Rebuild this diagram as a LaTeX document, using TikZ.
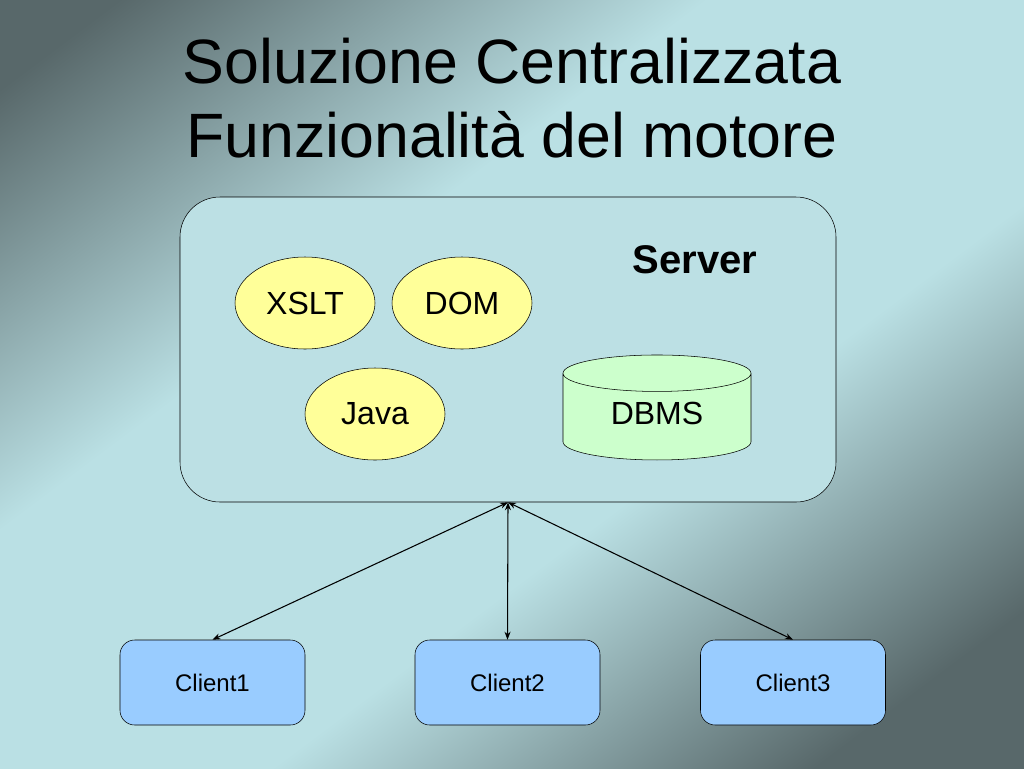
\documentclass[tikz,border=0pt]{standalone}
\usepackage{fontspec}
\setmainfont{Liberation Sans}
\usetikzlibrary{positioning,shapes.geometric,arrows.meta}
\definecolor{bgdark}{RGB}{88,104,106}
\definecolor{bglight}{RGB}{186,224,228}
\definecolor{srvfill}{RGB}{188,224,228}
\definecolor{appfill}{RGB}{255,255,153}
\definecolor{dbfill}{RGB}{204,255,204}
\definecolor{clifill}{RGB}{153,204,255}
\pgfdeclarehorizontalshading{slideshade}{100bp}{color(0bp)=(bgdark); color(30bp)=(bgdark); color(43bp)=(bglight); color(56bp)=(bglight); color(68bp)=(bgdark); color(100bp)=(bgdark)}

\begin{document}
\begin{tikzpicture}[x=0.75pt, y=-0.75pt,
    server/.style={draw, fill=srvfill, rounded corners=30pt, minimum width=492pt, minimum height=228.75pt},
    app/.style={ellipse, draw, fill=appfill, inner sep=0pt, minimum width=105pt, minimum height=69pt, font=\fontsize{24}{28}\selectfont},
    dbms/.style={cylinder, shape border rotate=90, aspect=0.36, draw, fill=dbfill, minimum width=141pt, minimum height=78.75pt, font=\fontsize{24}{28}\selectfont},
    client/.style={draw, fill=clifill, rounded corners=11pt, minimum width=138.75pt, minimum height=63.75pt, font=\fontsize{18}{22}\selectfont},
    link/.style={<->, >={Stealth[length=6pt, width=4.5pt]}, line width=0.8pt}]
  \useasboundingbox (0,0) rectangle (1024,768);
  \begin{scope}
    \clip (0,0) rectangle (1024,768);
    \begin{scope}[transform canvas={shift={(512,384)}, xscale=1.3333, rotate=-45}]
      \shade[shading=slideshade] (-600,-600) rectangle (600,600);
    \end{scope}
  \end{scope}
  \node[anchor=base, font=\fontsize{47}{56}\selectfont] (title1) at (512,83) {Soluzione Centralizzata};
  \node[anchor=base, font=\fontsize{47}{56}\selectfont] (title2) at (512,157) {Funzionalità del motore};
  \node[server] (server) at (508,349.5) {};
  \node[anchor=base, font=\bfseries\fontsize{30}{36}\selectfont] (srvlabel) at (695,273) {Server};
  \node[app] (xslt) at (305,303) {XSLT};
  \node[app] (dom) at (462,303) {DOM};
  \node[app] (java) at (375,414) {Java};
  \node[dbms] (db) at (657,419.5) {\raisebox{9pt}{DBMS}};
  \node[client] (c1) at (212.5,682.5) {Client1};
  \node[client] (c2) at (507.5,682.5) {Client2};
  \node[client] (c3) at (793,682.5) {Client3};
  \draw[link] (server.south) -- (c1.north);
  \draw[link] (server.south) -- (c2.north);
  \draw[link] (server.south) -- (c3.north);
\end{tikzpicture}
\end{document}
